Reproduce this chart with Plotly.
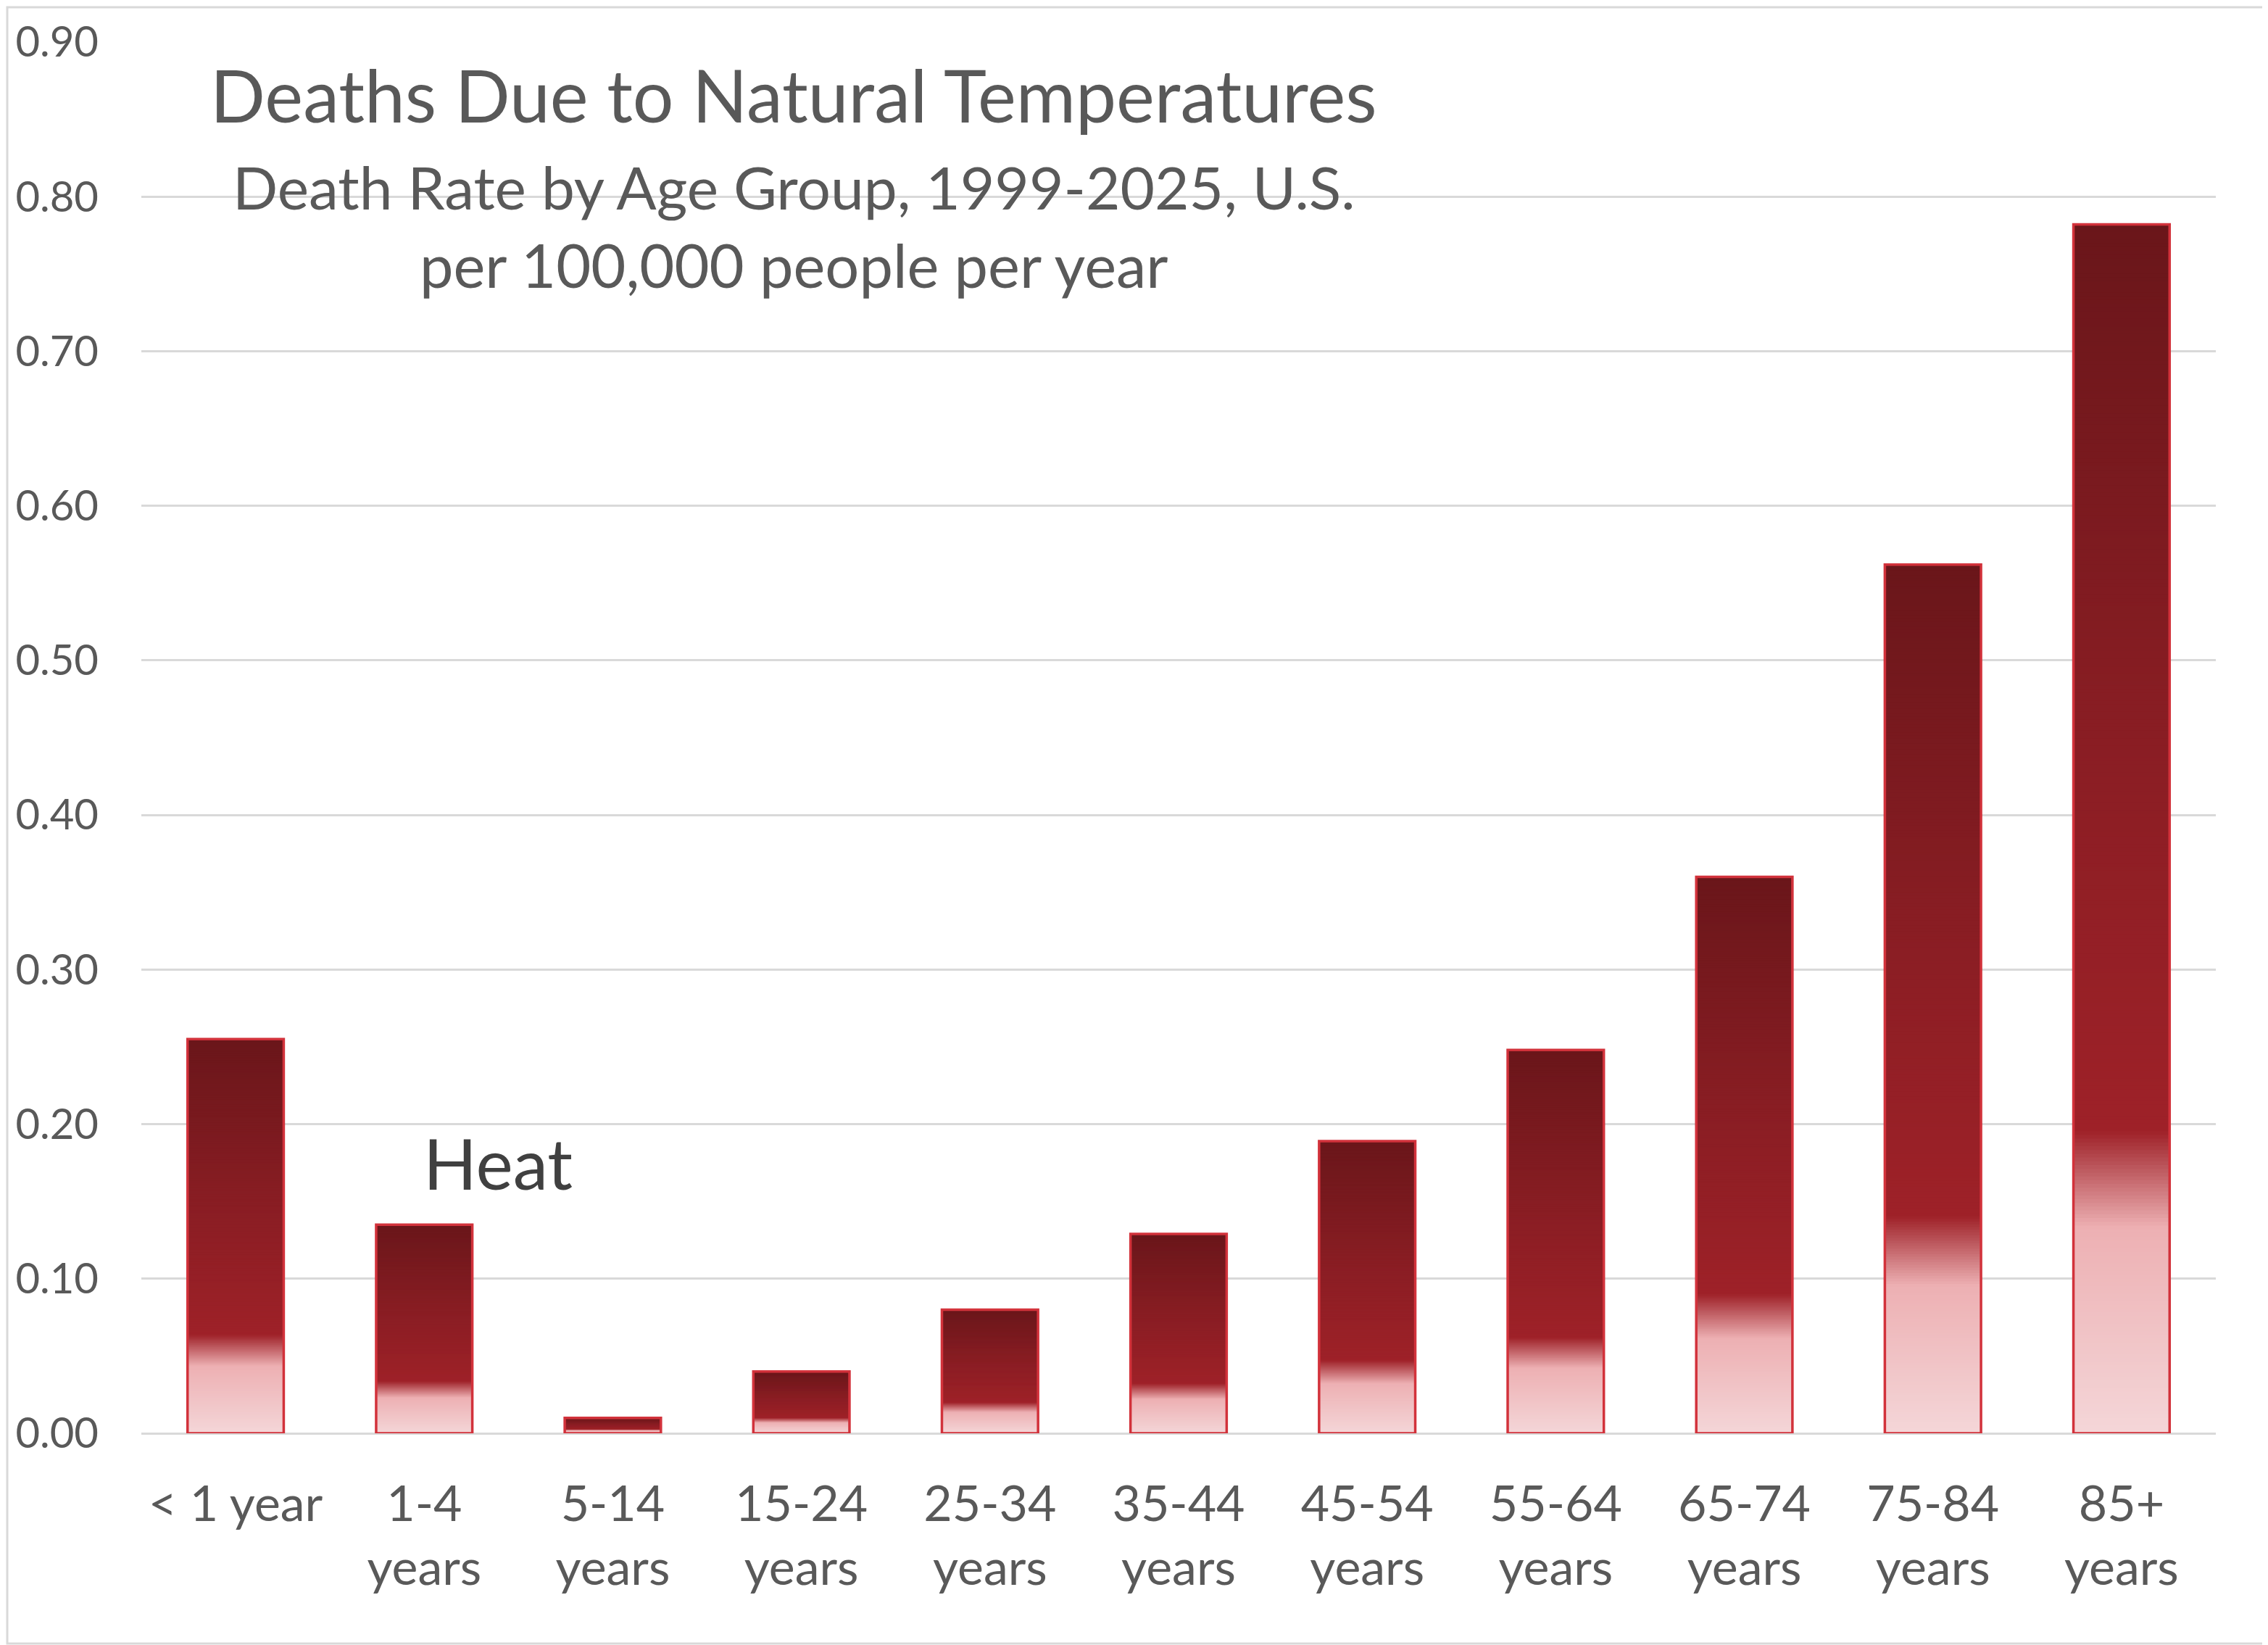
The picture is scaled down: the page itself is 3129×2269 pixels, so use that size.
import plotly.graph_objects as go

# data
age_groups = ["< 1 year", "1-4<br>years", "5-14<br>years", "15-24<br>years", "25-34<br>years",
              "35-44<br>years", "45-54<br>years", "55-64<br>years", "65-74<br>years",
              "75-84<br>years", "85+<br>years"]
death_rate = [0.255, 0.135, 0.010, 0.040, 0.080, 0.129, 0.189, 0.248, 0.360, 0.562, 0.782]
y_ticks = [0.0, 0.1, 0.2, 0.3, 0.4, 0.5, 0.6, 0.7, 0.8, 0.9]

# the page body has an 8px margin, so the figure is a bit smaller than the window
OFF = 8
W, H = 3129 - OFF, 2269 - OFF
ML, MR, MT, MB = 195 - OFF, 72, 58 - OFF, 292
PW, PH = W - ML - MR, H - MT - MB

FONT = "Lato"
GREY = "#595959"

# gradient stops, fraction of each bar's height (bottom -> top)
grad = [(0.0, (244, 214, 216)), (0.17, (237, 176, 179)), (0.25, (158, 33, 40)),
        (0.60, (136, 29, 35)), (1.0, (106, 22, 26))]


def grad_color(f):
    for (f0, c0), (f1, c1) in zip(grad[:-1], grad[1:]):
        if f <= f1:
            t = (f - f0) / (f1 - f0)
            r, g, b = [round(a + (b_ - a) * t) for a, b_ in zip(c0, c1)]
            return f"rgb({r},{g},{b})"
    r, g, b = grad[-1][1]
    return f"rgb({r},{g},{b})"


fig = go.Figure()

# overlaid bars, each shorter one painted on top, to fake Excel's gradient fill
N = 320
for k in range(N):
    frac = (N - k) / N
    fig.add_trace(go.Bar(
        x=age_groups, y=[v * frac for v in death_rate],
        marker=dict(color=grad_color(frac - 0.5 / N), line=dict(width=0)),
        hoverinfo="skip", showlegend=False))

# outline
fig.add_trace(go.Bar(
    x=age_groups, y=death_rate, name="Heat",
    marker=dict(color="rgba(0,0,0,0)", line=dict(color="#D2323B", width=3.5)),
    showlegend=False))

title_x = (1095 - OFF - ML) / PW


def py(y_px):
    # page pixel row -> paper y
    return (MT + PH - (y_px - OFF)) / PH


fig.add_annotation(text="Deaths Due to Natural Temperatures", xref="paper", yref="paper",
                   x=title_x, y=py(130), showarrow=False,
                   font=dict(family=FONT, size=100, color=GREY), xanchor="center", yanchor="middle")
fig.add_annotation(text="Death Rate by Age Group, 1999-2025, U.S.", xref="paper", yref="paper",
                   x=title_x, y=py(257), showarrow=False,
                   font=dict(family=FONT, size=82, color=GREY), xanchor="center", yanchor="middle")
fig.add_annotation(text="per 100,000 people per year", xref="paper", yref="paper",
                   x=title_x, y=py(365), showarrow=False,
                   font=dict(family=FONT, size=83, color=GREY), xanchor="center", yanchor="middle")
fig.add_annotation(text="Heat", xref="x", yref="y", x=1.39, y=0.175, showarrow=False,
                   font=dict(family=FONT, size=97, color="#404040"), xanchor="center", yanchor="middle")

# light border round the whole chart
fig.add_shape(type="rect", xref="paper", yref="paper",
              x0=(-ML + 2) / PW, x1=(PW + MR - 2) / PW, y0=(-MB + 2) / PH, y1=(PH + MT - 2) / PH,
              line=dict(color="#D9D9D9", width=3))

fig.update_layout(
    width=W, height=H,
    margin=dict(l=ML, r=MR, t=MT, b=MB),
    paper_bgcolor="white", plot_bgcolor="white",
    barmode="overlay", bargap=0.49,
    font=dict(family=FONT, color=GREY),
)
fig.update_yaxes(range=[0, 0.9], tickvals=y_ticks, tickformat=".2f",
                 showgrid=True, gridcolor="#D9D9D9", gridwidth=2.5,
                 zeroline=True, zerolinecolor="#D9D9D9", zerolinewidth=2.5,
                 showline=False, ticks="", ticklabelstandoff=58,
                 tickfont=dict(family=FONT, size=58, color=GREY))
fig.update_xaxes(showgrid=False, showline=False, ticks="", ticklabelstandoff=52,
                 tickfont=dict(family=FONT, size=68, color=GREY))

fig.write_html("out.html")
